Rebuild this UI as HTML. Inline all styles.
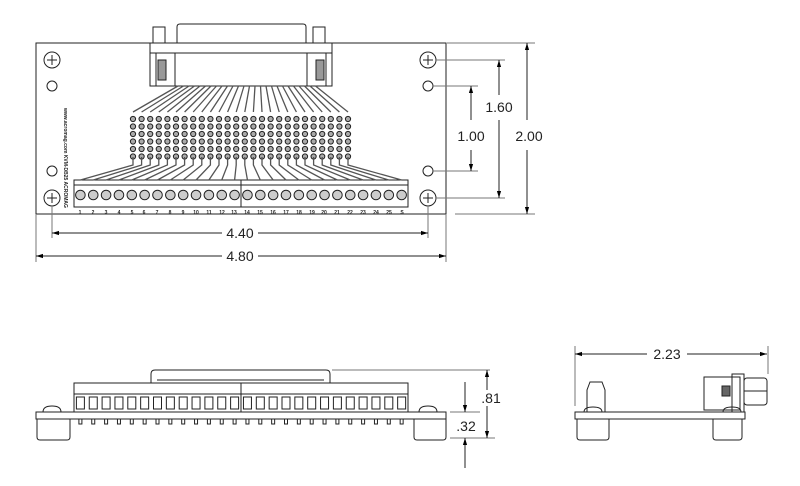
<!DOCTYPE html>
<html><head><meta charset="utf-8"><style>
html,body{margin:0;padding:0;background:#fff;}
svg{display:block;font-family:"Liberation Sans",sans-serif;}
</style></head><body>
<svg id="s" width="800" height="486" viewBox="0 0 800 486" xmlns="http://www.w3.org/2000/svg">
<defs>
<marker id="a" viewBox="0 0 10 10" refX="10" refY="5" markerWidth="7" markerHeight="7" orient="auto-start-reverse"><path d="M0,2 L10,5 L0,8 z" fill="#000"/></marker>
</defs>
<g fill="none" stroke="#222" stroke-width="1">
<rect x="36" y="43" width="410" height="171"/>
<path d="M177,44 L177,27 Q177,24 180,24 L303,24 Q306,24 306,27 L306,44"/>
<rect x="153" y="27" width="12" height="17"/><rect x="313" y="27" width="12" height="17"/>
<rect x="150" y="43" width="182" height="43" fill="#fff"/>
<line x1="150" y1="53" x2="332" y2="53"/>
<line x1="156" y1="53" x2="156" y2="86"/><line x1="175" y1="53" x2="175" y2="86"/>
<line x1="307" y1="53" x2="307" y2="86"/><line x1="326" y1="53" x2="326" y2="86"/>
<rect x="158" y="60" width="8" height="20" fill="#999"/><rect x="316" y="60" width="8" height="20" fill="#999"/>
<circle cx="52" cy="60" r="8"/><circle cx="428" cy="60" r="8"/><circle cx="52" cy="198" r="8"/><circle cx="428" cy="198" r="8"/>
<circle cx="52" cy="86" r="5"/><circle cx="428" cy="86" r="5"/><circle cx="52" cy="171" r="5"/><circle cx="428" cy="171" r="5"/>
<path d="M52,55v10M47,60h10M428,55v10M423,60h10M52,193v10M47,198h10M428,193v10M423,198h10"/>
<rect x="74" y="180" width="334" height="27"/>
<line x1="74" y1="185" x2="408" y2="185"/><line x1="241" y1="180" x2="241" y2="207"/>
<g id="tb"></g>
<path d="M52,206v32M428,206v32M36,214v48M446,214v48" stroke="#777"/>
<path d="M447,43h88M436,60h69M433,86h45M433,171h45M436,198h69M455,214h80" stroke="#777"/>
<line x1="52" y1="233" x2="222" y2="233" marker-start="url(#a)"/><line x1="258" y1="233" x2="428" y2="233" marker-end="url(#a)"/>
<line x1="36" y1="256" x2="222" y2="256" marker-start="url(#a)"/><line x1="258" y1="256" x2="446" y2="256" marker-end="url(#a)"/>
<line x1="471" y1="86" x2="471" y2="120" marker-start="url(#a)"/><line x1="471" y1="150" x2="471" y2="171" marker-end="url(#a)"/>
<line x1="499" y1="60" x2="499" y2="95" marker-start="url(#a)"/><line x1="499" y1="120" x2="499" y2="198" marker-end="url(#a)"/>
<line x1="527" y1="43" x2="527" y2="120" marker-start="url(#a)"/><line x1="527" y1="150" x2="527" y2="214" marker-end="url(#a)"/>
<path d="M151,383 L151,374 Q151,370 155,370 L326,370 Q330,370 330,374 L330,383"/>
<line x1="157" y1="380" x2="324" y2="380"/>
<rect x="74" y="383" width="334" height="29"/><line x1="74" y1="394" x2="408" y2="394"/><line x1="241" y1="383" x2="241" y2="412"/>
<rect x="36" y="412" width="410" height="7"/>
<path d="M37,419v18q0,3 3,3h27q3,0 3,-3v-18M414,419v18q0,3 3,3h26q3,0 3,-3v-18"/>
<path d="M43,412q0,-6 9,-6q9,0 9,6M419,412q0,-6 9,-6q9,0 9,6"/>
<g id="fv"></g>
<path d="M332,370h158M450,412h30M450,438h45" stroke="#777"/>
<line x1="487" y1="370" x2="487" y2="390" marker-start="url(#a)"/><line x1="487" y1="406" x2="487" y2="438" marker-end="url(#a)"/>
<line x1="465" y1="382" x2="465" y2="412" marker-end="url(#a)"/><line x1="465" y1="468" x2="465" y2="438" marker-end="url(#a)"/>
<rect x="575" y="412" width="170" height="7"/>
<path d="M577,419v18q0,3 3,3h26q3,0 3,-3v-18M713,419v18q0,3 3,3h23q3,0 3,-3v-18"/>
<path d="M587,412v-22l3,-8h12l3,8v22"/>
<path d="M584,412q0,-5 9,-5q9,0 9,5M723,412q0,-5 9,-5q9,0 9,5"/>
<rect x="704" y="377" width="36" height="33"/><rect x="732" y="374" width="12" height="38"/>
<rect x="744" y="378" width="23" height="27" rx="3"/><line x1="744" y1="391" x2="767" y2="391"/>
<rect x="722" y="386" width="8" height="10" fill="#666"/>
<path d="M575,346v60M768,346v28" stroke="#777"/>
<line x1="575" y1="354" x2="647" y2="354" marker-start="url(#a)"/><line x1="687" y1="354" x2="767" y2="354" marker-end="url(#a)"/>
</g>
<g font-size="14" fill="#222" text-anchor="middle">
<text x="240" y="238">4.40</text><text x="240" y="261">4.80</text>
<text x="471" y="141">1.00</text><text x="499" y="112">1.60</text><text x="529" y="141">2.00</text>
<text x="491" y="403">.81</text><text x="466" y="431">.32</text><text x="667" y="359">2.23</text>
</g>
<g font-size="5" font-weight="bold" fill="#222" text-anchor="middle">
<text x="80" y="214">1</text><text x="93" y="214">2</text><text x="106" y="214">3</text><text x="119" y="214">4</text><text x="132" y="214">5</text><text x="144" y="214">6</text><text x="157" y="214">7</text><text x="170" y="214">8</text><text x="183" y="214">9</text><text x="196" y="214">10</text><text x="209" y="214">11</text><text x="222" y="214">12</text><text x="234" y="214">13</text><text x="247" y="214">14</text><text x="260" y="214">15</text><text x="273" y="214">16</text><text x="286" y="214">17</text><text x="299" y="214">18</text><text x="312" y="214">19</text><text x="324" y="214">20</text><text x="337" y="214">21</text><text x="350" y="214">22</text><text x="363" y="214">23</text><text x="376" y="214">24</text><text x="389" y="214">25</text><text x="402" y="214">S</text>
</g>
<text x="0" y="0" font-size="5" font-weight="bold" fill="#222" transform="translate(64,108) rotate(90)">www.acromag.com  KVM-DB25  ACROMAG</text>
</svg>
<script>
var ns="http://www.w3.org/2000/svg";
function el(p,t,a){var e=document.createElementNS(ns,t);for(var k in a)e.setAttribute(k,a[k]);p.appendChild(e);return e;}
var tb=document.getElementById('tb'),fv=document.getElementById('fv');
for(var i=0;i<26;i++){
 var x=80.4+i*12.85;
 el(tb,'circle',{cx:x,cy:195,r:4.8,fill:'#ccc'});
 el(fv,'rect',{x:x-4,y:397,width:8,height:12});
 el(fv,'path',{d:'M'+(x-1.5)+',419v5h3v-5'});
 var px=133+i*8.6;
 for(var r=0;r<6;r++) el(tb,'circle',{cx:px,cy:119+r*7.5,r:2.6,fill:'#aaa'});
 el(tb,'path',{d:'M'+px+',112L'+(178+i*5.5)+',86',stroke:'#555','stroke-width':1.3});
 el(tb,'path',{d:'M'+px+',157L'+px+',165L'+x+',180',stroke:'#555','stroke-width':1.3});
}
</script>
</body></html>
